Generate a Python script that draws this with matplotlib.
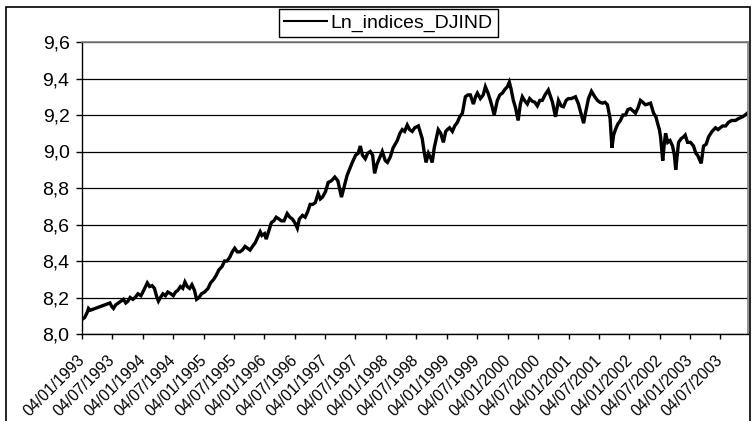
"""
Ln of the Dow Jones Industrial index, Jan 1993 - Dec 2003 (Excel style line chart)
"""
import matplotlib
matplotlib.use('Agg')
import matplotlib.pyplot as plt
import matplotlib.transforms as mtransforms
from matplotlib.patches import Rectangle
from matplotlib.ticker import FuncFormatter
import pandas as pd

plt.rcParams['font.family'] = ['Liberation Sans', 'DejaVu Sans']

# values (ln of the index level)
dates = [
    '1993-01-04', '1993-01-20', '1993-02-05', '1993-02-12', '1993-02-22',
    '1993-06-21', '1993-07-02', '1993-07-12', '1993-07-26', '1993-08-10', '1993-08-26',
    '1993-09-10', '1993-09-24', '1993-10-07', '1993-10-20', '1993-11-05', '1993-11-19',
    '1993-12-06', '1993-12-24',
    '1994-01-10', '1994-01-31', '1994-02-14', '1994-03-01', '1994-03-15', '1994-03-30',
    '1994-04-08', '1994-04-20', '1994-05-05', '1994-05-20', '1994-06-03', '1994-06-22',
    '1994-07-06', '1994-07-20', '1994-08-03', '1994-08-18', '1994-09-01', '1994-09-14',
    '1994-09-28', '1994-10-12', '1994-10-26', '1994-11-10', '1994-11-23', '1994-12-08',
    '1994-12-22',
    '1995-01-10', '1995-01-31', '1995-02-15', '1995-03-06', '1995-03-20', '1995-04-05',
    '1995-04-25', '1995-05-10', '1995-05-25', '1995-06-10', '1995-06-25', '1995-07-10',
    '1995-07-25', '1995-08-10', '1995-08-25', '1995-09-10', '1995-09-25', '1995-10-10',
    '1995-10-25', '1995-11-10', '1995-11-25', '1995-12-10', '1995-12-20',
    '1996-01-05', '1996-01-15', '1996-02-01', '1996-02-15', '1996-03-01', '1996-03-15',
    '1996-04-01', '1996-04-15', '1996-05-01', '1996-05-20', '1996-06-05', '1996-06-20',
    '1996-07-05', '1996-07-20', '1996-08-01', '1996-08-20', '1996-09-05', '1996-09-20',
    '1996-10-05', '1996-10-20', '1996-11-05', '1996-11-22', '1996-12-05', '1996-12-18',
    '1997-01-05', '1997-01-21', '1997-02-10', '1997-03-02', '1997-03-20', '1997-04-11',
    '1997-04-25', '1997-05-15', '1997-06-15', '1997-07-05', '1997-07-20', '1997-08-02',
    '1997-08-15', '1997-09-01', '1997-09-15', '1997-10-01', '1997-10-15', '1997-10-27',
    '1997-11-10', '1997-11-28', '1997-12-12', '1997-12-30',
    '1998-01-12', '1998-01-29', '1998-02-15', '1998-03-12', '1998-03-28', '1998-04-11',
    '1998-04-25', '1998-05-11', '1998-05-25', '1998-06-10', '1998-06-25', '1998-07-17',
    '1998-08-09', '1998-08-20', '1998-09-01', '1998-09-15', '1998-10-01', '1998-10-08',
    '1998-10-20', '1998-11-13', '1998-11-28', '1998-12-14', '1998-12-28',
    '1999-01-07', '1999-01-20', '1999-02-06', '1999-02-20', '1999-03-08', '1999-03-22',
    '1999-04-07', '1999-04-25', '1999-05-10', '1999-05-25', '1999-06-12', '1999-06-25',
    '1999-07-06', '1999-07-24', '1999-08-10', '1999-08-23', '1999-09-08', '1999-09-22',
    '1999-10-01', '1999-10-15', '1999-11-03', '1999-11-18', '1999-12-03', '1999-12-18',
    '2000-01-02', '2000-01-14', '2000-01-25', '2000-02-07', '2000-02-20', '2000-03-07',
    '2000-03-20', '2000-04-01', '2000-04-14', '2000-05-01', '2000-05-15', '2000-05-31',
    '2000-06-15', '2000-06-30', '2000-07-15', '2000-07-30', '2000-08-15', '2000-09-04',
    '2000-09-29', '2000-10-17', '2000-11-04', '2000-11-20', '2000-12-04', '2000-12-20',
    '2001-01-03', '2001-01-20', '2001-02-14', '2001-03-04', '2001-03-22', '2001-04-04',
    '2001-04-15', '2001-05-03', '2001-05-21', '2001-06-10', '2001-06-26', '2001-07-10',
    '2001-07-26', '2001-08-10', '2001-08-25', '2001-09-10', '2001-09-21', '2001-10-01',
    '2001-10-12', '2001-10-26', '2001-11-11', '2001-11-26', '2001-12-11', '2001-12-26',
    '2002-01-10', '2002-01-29', '2002-02-09', '2002-02-25', '2002-03-11', '2002-03-25',
    '2002-04-10', '2002-04-25', '2002-05-11', '2002-05-29', '2002-06-12', '2002-06-22',
    '2002-07-03', '2002-07-10', '2002-07-23', '2002-08-01', '2002-08-09', '2002-08-22',
    '2002-09-05', '2002-09-20', '2002-10-01', '2002-10-09', '2002-10-26', '2002-11-10',
    '2002-11-25', '2002-12-05', '2002-12-19',
    '2003-01-06', '2003-01-24', '2003-02-07', '2003-02-17', '2003-03-11', '2003-03-25',
    '2003-04-10', '2003-04-24', '2003-05-15', '2003-06-05', '2003-06-20', '2003-07-17',
    '2003-08-05', '2003-08-22', '2003-09-10', '2003-10-03', '2003-10-20', '2003-11-14',
    '2003-11-30', '2003-12-13',
]
ln_djind = [
    8.08, 8.09, 8.12, 8.14, 8.13,
    8.17, 8.15, 8.14, 8.16, 8.17, 8.18,
    8.19, 8.17, 8.18, 8.20, 8.19, 8.20,
    8.22, 8.21,
    8.24, 8.28, 8.26, 8.265, 8.25, 8.20,
    8.18, 8.20, 8.22, 8.21, 8.23, 8.22,
    8.21, 8.23, 8.24, 8.26, 8.25, 8.285,
    8.26, 8.25, 8.27, 8.24, 8.19, 8.20,
    8.22,
    8.23, 8.25, 8.28, 8.30, 8.32, 8.35,
    8.37, 8.40, 8.40, 8.42, 8.45, 8.47,
    8.45, 8.45, 8.46, 8.48, 8.47, 8.46,
    8.48, 8.50, 8.53, 8.56, 8.54,
    8.55, 8.52, 8.57, 8.61, 8.62, 8.64,
    8.63, 8.62, 8.62, 8.66, 8.64, 8.63,
    8.61, 8.58, 8.63, 8.65, 8.64, 8.67,
    8.71, 8.71, 8.72, 8.77, 8.74, 8.75,
    8.78, 8.83, 8.84, 8.86, 8.84, 8.75,
    8.80, 8.87, 8.94, 8.98, 8.99, 9.03,
    8.98, 8.96, 8.99, 9.00, 8.98, 8.88,
    8.93, 8.97, 9.00, 8.95,
    8.94, 8.97, 9.02, 9.06, 9.10, 9.12,
    9.11, 9.145, 9.12, 9.11, 9.13, 9.14,
    9.07, 9.00, 8.94, 8.99, 8.96, 8.94,
    9.02, 9.12, 9.10, 9.05, 9.11,
    9.12, 9.13, 9.11, 9.14, 9.16, 9.19,
    9.21, 9.30, 9.31, 9.31, 9.26, 9.30,
    9.32, 9.29, 9.31, 9.355, 9.32, 9.28,
    9.25, 9.20, 9.28, 9.31, 9.32, 9.34,
    9.355, 9.38, 9.34, 9.28, 9.24, 9.17,
    9.26, 9.30, 9.28, 9.26, 9.29, 9.275,
    9.27, 9.25, 9.28, 9.28, 9.31, 9.337,
    9.27, 9.19, 9.28, 9.25, 9.245, 9.28,
    9.29, 9.29, 9.30, 9.26, 9.20, 9.155,
    9.21, 9.29, 9.33, 9.30, 9.28, 9.27,
    9.265, 9.27, 9.256, 9.18, 9.02, 9.09,
    9.12, 9.15, 9.17, 9.20, 9.20, 9.23,
    9.235, 9.22, 9.21, 9.24, 9.28, 9.27,
    9.256, 9.26, 9.265, 9.21, 9.19, 9.155,
    9.12, 9.08, 8.95, 9.04, 9.10, 9.05,
    9.06, 9.03, 8.98, 8.90, 9.05, 9.07,
    9.08, 9.09, 9.05,
    9.05, 9.03, 8.99, 8.98, 8.935, 9.03,
    9.04, 9.08, 9.11, 9.13, 9.12, 9.14,
    9.14, 9.16, 9.17, 9.17, 9.18, 9.19,
    9.20, 9.21,
]
series_name = 'Ln_indices_DJIND'

y_ticks = [8.0, 8.2, 8.4, 8.6, 8.8, 9.0, 9.2, 9.4, 9.6]
tick_years = list(range(1993, 2004))
tick_dates = [pd.Timestamp(y, m, 4) for y in tick_years for m in (1, 7)]
tick_labels = [d.strftime('%d/%m/%Y') for d in tick_dates]

x = pd.to_datetime(dates)

fig = plt.figure(figsize=(7.52, 4.21), dpi=100)
ax = fig.add_axes([82 / 752, 1 - 334 / 421, 666 / 752, 292 / 421])

line, = ax.plot(x, ln_djind, color='black', lw=2.4, solid_joinstyle='miter')

ax.set_xlim(pd.Timestamp('1993-01-04'), pd.Timestamp('2003-12-17'))
ax.set_ylim(8.0, 9.6)
ax.set_yticks(y_ticks)
ax.yaxis.set_major_formatter(FuncFormatter(lambda v, p: f'{v:.1f}'.replace('.', ',')))
ax.set_xticks(tick_dates)
ax.set_xticklabels(tick_labels, rotation=45, ha='right', va='top',
                   rotation_mode='anchor', fontsize=11.3)
ax.tick_params(axis='y', labelsize=14, direction='out', length=4, width=1, pad=5)
ax.tick_params(axis='x', direction='out', length=3.5, width=1, pad=10)

# Excel puts the end of each date a few pixels left of its tick
shift = mtransforms.ScaledTranslation(-5 / 100, 0, fig.dpi_scale_trans)
for lab in ax.get_xticklabels():
    lab.set_transform(lab.get_transform() + shift)

ax.grid(axis='y', color='black', lw=0.9)
ax.set_axisbelow(True)
for s in ('top', 'right'):
    ax.spines[s].set_color('#808080')
    ax.spines[s].set_linewidth(1.2)
for s in ('left', 'bottom'):
    ax.spines[s].set_color('black')
    ax.spines[s].set_linewidth(1)

leg = fig.legend([line], [series_name], loc='center',
                 bbox_to_anchor=(388.5 / 752, 1 - 23 / 421), fontsize=14,
                 frameon=True, fancybox=False, edgecolor='black', framealpha=1,
                 handlelength=2.2, handletextpad=0.2, borderpad=0.25,
                 borderaxespad=0)
leg.get_frame().set_linewidth(1)
leg.get_lines()[0].set_linewidth(1.5)

# chart area border
fig.patches.append(Rectangle((6 / 752, -0.02), 744 / 752, 1.02 - 7 / 421,
                             transform=fig.transFigure, fill=False,
                             edgecolor='black', lw=1.2))

fig.savefig('out.png', dpi=100)
